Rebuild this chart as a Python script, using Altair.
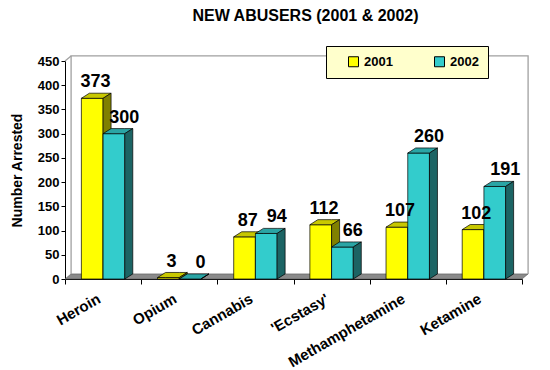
import altair as alt
import pandas as pd

# ---- data ----
categories = ["Heroin", "Opium", "Cannabis", "'Ecstasy'", "Methamphetamine", "Ketamine"]
years = ["2001", "2002"]
values_2001 = [373, 3, 87, 112, 107, 102]
values_2002 = [300, 0, 94, 66, 260, 191]
y_ticks = [0, 50, 100, 150, 200, 250, 300, 350, 400, 450]

# ---- styling ----
front_colors = ["#FFFF00", "#33CCCC"]
top_colors = ["#C8C800", "#2AA5A5"]
side_colors = ["#808000", "#1C6464"]
label_shift = [0.4, 1.3]   # value-label shift per series, in depth units
FONT = "Liberation Sans"

BAR_W = 0.285   # bar width in band units
DX = 0.105      # 3D depth (x, band units)
DY = 10.5       # 3D depth (y, data units)
WDX = 0.08      # wall depth
WDY = 10.5
XMIN, XMAX = -0.5, len(categories) - 0.5
YMAX = 450

keys, key_colors = [], []
for s, y in enumerate(years):
    keys += [y, y + " top", y + " side"]
    key_colors += [front_colors[s], top_colors[s], side_colors[s]]

face_rows, text_rows = [], []
for s, (year, vals) in enumerate(zip(years, [values_2001, values_2002])):
    for i, (cat, v) in enumerate(zip(categories, vals)):
        x0 = i - BAR_W + s * BAR_W
        x1 = x0 + BAR_W
        fid = f"{s}-{i}"
        pts = {
            "front": [(x0, v, 0), (x1, v, 0)],
            "top": [(x0, v, v), (x0 + DX, v + DY, v), (x1, v + DY, v), (x1 + DX, v + DY, v + DY)],
            "side": [(x1, v, 0), (x1 + DX, v + DY, DY)],
        }
        for face, plist in pts.items():
            key = year if face == "front" else f"{year} {face}"
            for x, yy, yy2 in plist:
                face_rows.append(dict(series=year, face=fid + face, key=key, x=x, y=yy, y2=yy2))
        text_rows.append(dict(series=year, cat=cat, x=(x0 + x1) / 2 + DX * label_shift[s],
                              v=v, label=str(v)))

faces = pd.DataFrame(face_rows)
texts = pd.DataFrame(text_rows)

# floor slab and back wall
floor = pd.DataFrame([
    dict(x=XMIN, y=0, y2=0), dict(x=XMIN + WDX, y=WDY, y2=0),
    dict(x=XMAX, y=WDY, y2=0), dict(x=XMAX + WDX, y=WDY, y2=WDY),
])
wall = pd.DataFrame([
    dict(seg="a", o=0, x=XMIN + WDX, y=WDY), dict(seg="a", o=1, x=XMIN + WDX, y=YMAX + WDY),
    dict(seg="a", o=2, x=XMAX + WDX, y=YMAX + WDY), dict(seg="a", o=3, x=XMAX + WDX, y=WDY),
    dict(seg="b", o=0, x=XMIN, y=YMAX), dict(seg="b", o=1, x=XMIN + WDX, y=YMAX + WDY),
])

xscale = alt.Scale(domain=[XMIN, XMAX], nice=False, zero=False)
yscale = alt.Scale(domain=[0, YMAX], nice=False, zero=True)
yaxis = alt.Axis(values=y_ticks, title="Number Arrested", titleFontSize=14, titleFontWeight="bold",
                 titleFont=FONT, titlePadding=13, labelFont=FONT, labelFontSize=13,
                 labelFontWeight="bold", labelColor="black", tickColor="black", tickSize=4,
                 domainColor="black", grid=False, labelPadding=2)
Y = lambda f: alt.Y(f, type="quantitative", scale=yscale, axis=yaxis)

tick_axis = alt.Axis(values=[XMIN + k for k in range(len(categories) + 1)], labels=False,
                     tickSize=5, tickColor="black", domainColor="black", grid=False,
                     title=None, orient="bottom")
label_expr = "[" + ",".join("'" + c.replace("'", "\\'") + "'" for c in categories) + "][round(datum.value)]"
label_axis = alt.Axis(values=list(range(len(categories))), labelExpr=label_expr, labelAngle=-30,
                      labelAlign="right", labelBaseline="top", labelFont=FONT, labelFontSize=15,
                      labelFontWeight="bold", labelColor="black", labelPadding=12, labelOffset=-8,
                      labelOverlap=False, labelBound=False, labelFlush=False,
                      ticks=False, domain=False, grid=False, title=None, orient="bottom")

base_floor = alt.Chart(floor).mark_area(color="#8A8A8A", stroke="#555555", strokeWidth=0.6).encode(
    x=alt.X("x:Q", scale=xscale, axis=tick_axis),
    y=Y("y"), y2="y2",
)
base_wall = alt.Chart(wall).mark_line(color="#A0A0A0", strokeWidth=1.3).encode(
    x=alt.X("x:Q", scale=xscale, axis=None),
    y=Y("y"), detail="seg:N", order="o:Q",
)

color = alt.Color("key:N", scale=alt.Scale(domain=keys, range=key_colors),
                  legend=alt.Legend(values=years, title=None, orient="none", legendX=261, legendY=-15,
                                    direction="horizontal", fillColor="#FFFFCC", strokeColor="black",
                                    padding=9, columnPadding=28, labelFont=FONT, labelFontSize=13,
                                    labelFontWeight="bold", labelColor="black", symbolType="square",
                                    symbolSize=100, symbolStrokeColor="black", symbolStrokeWidth=1,
                                    labelOffset=4, symbolOffset=12))

layers = [base_floor, base_wall]
for year in years:
    layers.append(
        alt.Chart(faces).transform_filter(alt.datum.series == year)
        .mark_area(stroke="black", strokeWidth=0.7, interpolate="linear")
        .encode(x=alt.X("x:Q", scale=xscale, axis=None), y=Y("y"), y2="y2",
                detail="face:N", color=color)
    )

text_layer = alt.Chart(texts).mark_text(font=FONT, fontSize=18, fontWeight="bold", color="black",
                                        dy=-11, baseline="alphabetic").encode(
    x=alt.X("x:Q", scale=xscale, axis=label_axis), y=Y("v"), text="label:N")
layers.append(text_layer)

chart = alt.layer(*layers).resolve_axis(x="independent").properties(
    width=457, height=218,
    autosize=alt.AutoSizeParams(type="none"),
    padding={"left": 57, "top": 53, "right": 20, "bottom": 90},
    title=alt.TitleParams("NEW ABUSERS (2001 & 2002)", font=FONT, fontSize=16, fontWeight="bold",
                          anchor="middle", dx=12, offset=22, color="black"),
).configure_view(stroke=None)

chart.save("out.html", embed_options={"renderer": "svg", "actions": False})
